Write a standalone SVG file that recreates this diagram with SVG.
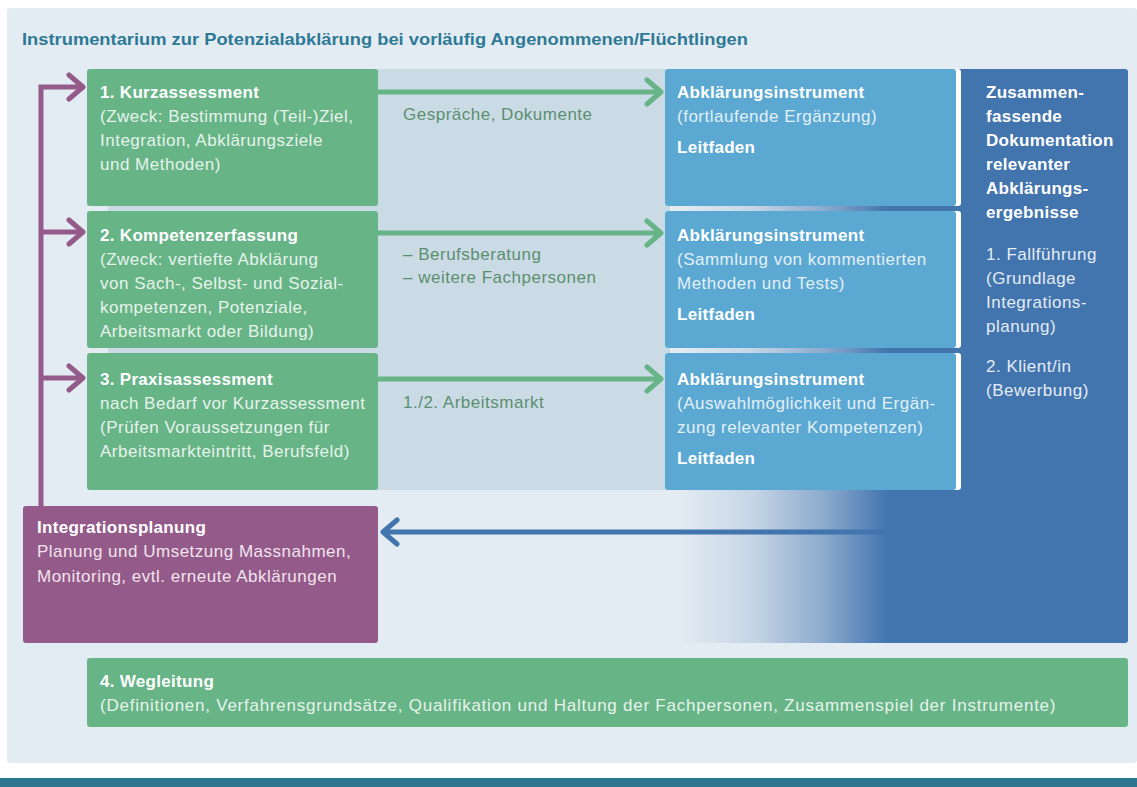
<svg xmlns="http://www.w3.org/2000/svg" width="1137" height="787" viewBox="0 0 1137 787">
<defs>
<linearGradient id="fade" gradientUnits="userSpaceOnUse" x1="677" y1="0" x2="888" y2="0">
<stop offset="0" stop-color="#4274ae" stop-opacity="0"/>
<stop offset="0.35" stop-color="#4274ae" stop-opacity="0.18"/>
<stop offset="0.7" stop-color="#4274ae" stop-opacity="0.55"/>
<stop offset="1" stop-color="#4274ae" stop-opacity="1"/>
</linearGradient>
<marker id="ag" markerUnits="userSpaceOnUse" viewBox="0 0 20 30" refX="18" refY="15" markerWidth="20" markerHeight="30" orient="auto">
<polyline points="3,3 17,15 3,27" fill="none" stroke="#67b487" stroke-width="5" stroke-linecap="round" stroke-linejoin="round"/>
</marker>
<marker id="ap" markerUnits="userSpaceOnUse" viewBox="0 0 20 30" refX="18" refY="15" markerWidth="20" markerHeight="30" orient="auto">
<polyline points="3,3 17,15 3,27" fill="none" stroke="#945a89" stroke-width="5" stroke-linecap="round" stroke-linejoin="round"/>
</marker>
<marker id="ab" markerUnits="userSpaceOnUse" viewBox="0 0 20 30" refX="18" refY="15" markerWidth="20" markerHeight="30" orient="auto">
<polyline points="3,3 17,15 3,27" fill="none" stroke="#4274ae" stroke-width="5" stroke-linecap="round" stroke-linejoin="round"/>
</marker>
</defs>
<style>
text{font-family:"Liberation Sans",Arial,sans-serif;font-size:17px}
.b{font-weight:bold;fill:#ffffff;letter-spacing:0.3px}
.t{fill:#e6f3eb;letter-spacing:0.5px}
.tb{fill:#e3f0f8;letter-spacing:0.5px}
.td{fill:#e4ecf5;letter-spacing:0.5px}
.tp{fill:#f1e4ee;letter-spacing:0.5px}
.lbl{fill:#5b8f70;letter-spacing:0.5px}
.green{fill:#67b487}
.blue{fill:#5ba8d3}
.conn{fill:none;stroke-width:5}
</style>
<rect x="0" y="0" width="1137" height="787" fill="#ffffff"/>
<rect x="7" y="8" width="1130" height="755" rx="3" fill="#e4ecf3"/>
<rect x="0" y="778" width="1137" height="9" fill="#2d7690"/>
<text x="22" y="45" font-weight="bold" fill="#2e7a96" font-size="16" textLength="726" lengthAdjust="spacingAndGlyphs">Instrumentarium zur Potenzialabklärung bei vorläufig Angenommenen/Flüchtlingen</text>
<rect id="band" x="108" y="69" width="562" height="421" fill="#cbdbe6"/>
<rect id="fadeArea" x="665" y="69" width="300" height="574" fill="url(#fade)"/>

<g id="dokumentation">
<rect x="961" y="69" width="167" height="574" rx="3" fill="#4274ae"/>
<text class="b" x="986" y="98">Zusammen-</text>
<text class="b" x="986" y="122">fassende</text>
<text class="b" x="986" y="146">Dokumentation</text>
<text class="b" x="986" y="170">relevanter</text>
<text class="b" x="986" y="194">Abklärungs-</text>
<text class="b" x="986" y="218">ergebnisse</text>
<text class="td" x="986" y="260">1. Fallführung</text>
<text class="td" x="986" y="284">(Grundlage</text>
<text class="td" x="986" y="308">Integrations-</text>
<text class="td" x="986" y="332">planung)</text>
<text class="td" x="986" y="372">2. Klient/in</text>
<text class="td" x="986" y="396">(Bewerbung)</text>
</g>

<g id="connectors">
<path class="conn" stroke="#945a89" d="M41,506 V87 H84" marker-end="url(#ap)"/>
<path class="conn" stroke="#945a89" d="M41,232 H84" marker-end="url(#ap)"/>
<path class="conn" stroke="#945a89" d="M41,378 H84" marker-end="url(#ap)"/>
<path class="conn" stroke="#67b487" d="M378,92 H662" marker-end="url(#ag)"/>
<path class="conn" stroke="#67b487" d="M378,233 H662" marker-end="url(#ag)"/>
<path class="conn" stroke="#67b487" d="M378,379 H662" marker-end="url(#ag)"/>
<path class="conn" stroke="#4274ae" d="M900,532 H382" marker-end="url(#ab)"/>
<text class="lbl" x="403" y="120">Gespräche, Dokumente</text>
<text class="lbl" x="403" y="260">– Berufsberatung</text>
<text class="lbl" x="403" y="283">– weitere Fachpersonen</text>
<text class="lbl" x="403" y="408">1./2. Arbeitsmarkt</text>
</g>

<g id="kurzassessment">
<rect class="green" x="87" y="69" width="291" height="137" rx="3"/>
<text class="b" x="100" y="98">1. Kurzassessment</text>
<text class="t" x="100" y="122">(Zweck: Bestimmung (Teil-)Ziel,</text>
<text class="t" x="100" y="146">Integration, Abklärungsziele</text>
<text class="t" x="100" y="170">und Methoden)</text>
</g>
<g id="kompetenzerfassung">
<rect class="green" x="87" y="211" width="291" height="137" rx="3"/>
<text class="b" x="100" y="241">2. Kompetenzerfassung</text>
<text class="t" x="100" y="265">(Zweck: vertiefte Abklärung</text>
<text class="t" x="100" y="289">von Sach-, Selbst- und Sozial-</text>
<text class="t" x="100" y="313">kompetenzen, Potenziale,</text>
<text class="t" x="100" y="337">Arbeitsmarkt oder Bildung)</text>
</g>
<g id="praxisassessment">
<rect class="green" x="87" y="353" width="291" height="137" rx="3"/>
<text class="b" x="100" y="385">3. Praxisassessment</text>
<text class="t" x="100" y="409">nach Bedarf vor Kurzassessment</text>
<text class="t" x="100" y="433">(Prüfen Voraussetzungen für</text>
<text class="t" x="100" y="457">Arbeitsmarkteintritt, Berufsfeld)</text>
</g>

<g id="instrument1">
<rect x="665" y="69" width="296" height="137" rx="3" fill="#ffffff"/>
<rect class="blue" x="665" y="69" width="291" height="137" rx="3"/>
<text class="b" x="677" y="98">Abklärungsinstrument</text>
<text class="tb" x="677" y="122">(fortlaufende Ergänzung)</text>
<text class="b" x="677" y="153">Leitfaden</text>
</g>
<g id="instrument2">
<rect x="665" y="211" width="296" height="137" rx="3" fill="#ffffff"/>
<rect class="blue" x="665" y="211" width="291" height="137" rx="3"/>
<text class="b" x="677" y="241">Abklärungsinstrument</text>
<text class="tb" x="677" y="265">(Sammlung von kommentierten</text>
<text class="tb" x="677" y="289">Methoden und Tests)</text>
<text class="b" x="677" y="320">Leitfaden</text>
</g>
<g id="instrument3">
<rect x="665" y="353" width="296" height="137" rx="3" fill="#ffffff"/>
<rect class="blue" x="665" y="353" width="291" height="137" rx="3"/>
<text class="b" x="677" y="385">Abklärungsinstrument</text>
<text class="tb" x="677" y="409">(Auswahlmöglichkeit und Ergän-</text>
<text class="tb" x="677" y="433">zung relevanter Kompetenzen)</text>
<text class="b" x="677" y="464">Leitfaden</text>
</g>

<g id="integrationsplanung">
<rect x="23" y="506" width="355" height="137" rx="3" fill="#945a89"/>
<text class="b" x="37" y="533">Integrationsplanung</text>
<text class="tp" x="37" y="557">Planung und Umsetzung Massnahmen,</text>
<text class="tp" x="37" y="582">Monitoring, evtl. erneute Abklärungen</text>
</g>

<g id="wegleitung">
<rect class="green" x="87" y="658" width="1041" height="69" rx="3"/>
<text class="b" x="100" y="687">4. Wegleitung</text>
<text class="t" x="100" y="711" textLength="956" lengthAdjust="spacing">(Definitionen, Verfahrensgrundsätze, Qualifikation und Haltung der Fachpersonen, Zusammenspiel der Instrumente)</text>
</g>
</svg>
